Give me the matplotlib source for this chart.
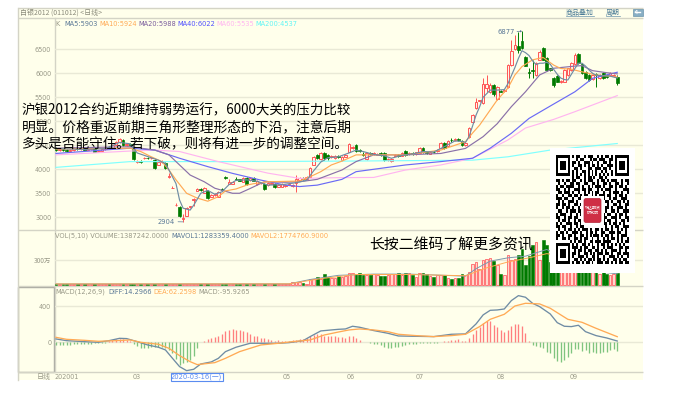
import matplotlib
matplotlib.use("Agg")
import matplotlib.pyplot as plt
from matplotlib.patches import Rectangle, FancyBboxPatch
import numpy as np

CJK = ['Noto Sans CJK SC', 'DejaVu Sans']
plt.rcParams['font.family'] = ['DejaVu Sans', 'Noto Sans CJK SC']

opens = [4440,4400,4430,4410,4380,4400,4440,4420,4430,4410,
 4425,4435,4370,4385,4420,4470,4450,4510,4560,4620,
 4510,4530,4420,4150,4165,4230,4240,4225,4195,4090,
 4150,4140,3830,3610,3250,3220,2960,3035,3210,3370,
 3550,3590,3510,3555,3430,3465,3430,3585,3830,3700,
 3700,3800,3790,3735,3825,3770,3810,3690,3705,3690,
 3670,3700,3700,3640,3640,3650,3680,3660,3720,3770,
 3810,3800,3840,4090,4300,4210,4340,4290,4250,4240,
 4270,4190,4260,4370,4440,4505,4400,4320,4215,4330,
 4310,4300,4330,4340,4190,4175,4280,4300,4280,4390,
 4310,4340,4310,4345,4450,4350,4320,4360,4380,4450,
 4550,4490,4620,4610,4630,4590,4500,4680,4990,5280,
 5415,5375,5700,5615,5755,5465,5640,5630,5720,6170,
 6500,6560,6670,6345,6030,6060,5965,6280,6535,6310,
 6100,5895,5945,5820,5825,5965,6070,6190,6395,6190,
 6030,5970,5880,5985,5905,6010,5970,5960,5950,5930]
closes = [4400,4430,4410,4380,4400,4440,4420,4430,4410,4425,
 4435,4370,4385,4420,4470,4450,4510,4560,4630,4510,
 4530,4500,4215,4170,4150,4240,4225,4240,4035,4150,
 4170,4030,3860,3620,3260,3030,2990,3200,3225,3380,
 3580,3560,3610,3410,3470,3480,3530,3560,3810,3730,
 3725,3780,3765,3825,3695,3825,3765,3760,3725,3590,
 3720,3715,3640,3670,3690,3670,3700,3680,3790,3810,
 3790,3830,4020,4250,4240,4340,4230,4230,4280,4270,
 4250,4260,4300,4530,4460,4380,4390,4300,4340,4310,
 4330,4320,4300,4190,4210,4220,4300,4280,4340,4300,
 4340,4310,4350,4450,4350,4340,4360,4350,4410,4550,
 4445,4590,4600,4640,4600,4500,4540,4860,5130,5410,
 5435,5770,5770,5755,5560,5720,5620,5650,6170,6465,
 6590,6480,6520,6160,6000,6040,6210,6450,6280,6070,
 6070,5755,5825,5830,6070,6100,6210,6380,6210,6000,
 5910,5850,5960,5960,5970,5900,5930,6000,5960,5790]
highs = [4470,4450,4450,4430,4420,4460,4460,4450,4445,4440,
 4450,4440,4400,4430,4490,4490,4530,4580,4660,4640,
 4550,4550,4430,4195,4185,4260,4255,4260,4215,4170,
 4190,4160,3920,3660,3290,3240,3060,3220,3240,3400,
 3620,3600,3625,3570,3490,3500,3545,3610,3860,3790,
 3760,3830,3800,3840,3835,3840,3830,3780,3745,3720,
 3735,3740,3720,3690,3710,3690,3720,3700,3880,3830,
 3830,3850,4040,4270,4320,4355,4350,4320,4300,4290,
 4290,4280,4320,4550,4480,4530,4420,4350,4360,4350,
 4350,4340,4350,4360,4230,4240,4320,4320,4360,4400,
 4360,4350,4370,4470,4470,4370,4380,4380,4430,4570,
 4560,4620,4660,4660,4650,4610,4560,4880,5160,5480,
 5450,5900,5965,5790,5780,5740,5660,5680,6190,6700,
 6800,6850,6877,6360,6110,6280,6240,6480,6550,6330,
 6120,5915,5965,5850,6090,6120,6230,6430,6420,6210,
 6040,5990,5980,6010,5990,6030,5990,6020,5990,5960]
lows = [4380,4380,4390,4350,4360,4390,4400,4400,4395,4400,
 4410,4350,4360,4375,4410,4440,4440,4500,4550,4495,
 4490,4480,4200,4140,4130,4220,4210,4215,4010,4080,
 4140,4000,3820,3600,3240,3000,2904,3020,3190,3240,
 3540,3540,3500,3390,3420,3450,3420,3540,3790,3690,
 3690,3770,3750,3725,3680,3760,3750,3680,3695,3570,
 3660,3685,3620,3630,3625,3630,3670,3640,3525,3760,
 3770,3790,3830,4080,4220,4200,4200,4200,4230,4220,
 4230,4180,4250,4360,4430,4360,4370,4280,4200,4290,
 4290,4290,4280,4170,4170,4160,4270,4260,4270,4280,
 4300,4290,4300,4335,4330,4320,4310,4330,4370,4440,
 4430,4480,4570,4590,4580,4480,4490,4660,4960,5260,
 5400,5360,5600,5580,5520,5450,5600,5610,5700,6160,
 6490,6420,6500,6150,5900,5900,5950,6270,6270,6050,
 6050,5720,5810,5800,5810,5950,6050,6170,6190,5980,
 5890,5830,5870,5720,5890,5880,5910,5950,5930,5750]

# volume, in units of 10 000 (万)
volumes = [6,7,6,5,7,6,8,6,5,7,6,8,7,6,5,7,6,8,9,8,
 7,6,9,6,5,6,7,8,8,6,7,8,7,8,9,9,8,9,7,6,
 7,6,7,8,6,5,6,7,6,6,5,7,6,7,8,6,6,7,5,7,
 6,5,6,7,5,6,8,28,30,28,14,12,64,66,96,72,132,96,80,76,
 100,90,100,144,138,132,144,120,110,110,
 130,120,100,105,120,130,130,140,120,135,
 135,110,85,135,140,130,100,95,120,120,
 120,80,72,75,75,130,110,150,250,270,
 190,290,310,320,280,230,130,110,350,300,
 310,350,430,230,340,480,515,300,530,480,
 276,280,250,270,300,260,240,230,250,200,
 170,180,150,170,130,150,130,110,130,138.7]
macd_hist = [-30,-30,-30,-26,-26,-22,-22,-22,-18,-18,-15,-11,-11,-7,-4,
 15,30,37,37,33,30,18,
 -15,-37,-59,-63,-63,-55,-52,-48,-52,-67,-81,-118,-185,-252,-229,-215,-196,-148,-63,
 4,18,33,44,55,74,96,122,141,144,141,137,130,111,93,74,67,48,44,41,30,18,22,15,15,18,26,30,33,37,52,74,81,93,93,74,74,67,67,55,
 55,48,67,67,48,22,4,0,-7,-15,-22,-33,-52,-59,-63,-55,-52,-37,-30,-22,-22,-18,-11,-7,-4,-7,-7,-4,
 7,11,18,26,30,33,18,18,44,93,141,167,215,233,241,192,167,141,111,133,178,207,207,178,104,18,
 -30,-41,-52,-67,-104,-118,-178,-204,-215,-192,-163,-118,-74,-74,-96,-89,-118,-111,-118,-118,-104,-104,-89,-74,-96]

ma5_i = [0,8,14,18,21,23,25,27,29,31,32,34,35,36,38,39,41,43,45,47,49,51,54,57,60,64,68,71,73,75,77,80,83,85,87,90,93,95,98,101,104,107,110,113,115,116,117,118,119,120,121,123,125,127,128,129,130,131,132,133,134,135,136,137,138,139,140,141,142,143,144,145,146,147,148,149,150,151,152,153,155,157,159]
ma5_v = [4430,4415,4430,4560,4530,4340,4290,4240,4190,4120,3985,3700,3360,3190,3150,3250,3500,3560,3480,3530,3680,3770,3780,3750,3670,3680,3720,3770,3970,4150,4240,4260,4340,4400,4370,4310,4280,4230,4290,4320,4370,4360,4470,4590,4580,4560,4680,4900,5130,5300,5500,5650,5650,5660,5780,5950,6120,6310,6470,6430,6370,6260,6180,6210,6210,6230,6190,6080,5980,5900,5870,5860,5980,6100,6210,6210,6150,6070,6000,5960,5950,5940,5903]
ma10_i = [0,21,24,27,30,32,34,37,40,43,46,48,51,54,56,60,69,72,75,78,81,85,90,99,109,116,118,120,122,125,128,130,132,135,138,141,143,146,149,153,159]
ma10_v = [4420,4440,4370,4260,4160,3985,3780,3500,3400,3335,3430,3550,3590,3670,3700,3740,3755,3845,3950,4090,4170,4300,4300,4300,4400,4575,4755,4920,5130,5445,5690,5965,6140,6280,6330,6170,6100,6085,6030,5965,5924]
ma20_i = [0,21,28,32,35,38,42,45,50,52,55,59,65,69,74,81,85,90,99,109,116,121,125,126,129,133,137,141,147,149,152,156,159]
ma20_v = [4440,4470,4400,4300,4090,3880,3740,3605,3500,3500,3600,3740,3730,3740,3790,3985,4160,4300,4300,4330,4435,4680,4950,5040,5305,5615,5965,6105,6150,6160,6055,6012,5988]
ma40_i = [0,21,28,35,43,50,58,65,69,74,81,85,99,109,118,123,129,134,141,147,152,159]
ma40_v = [4330,4440,4400,4230,4055,3915,3775,3670,3640,3670,3790,3950,4090,4160,4230,4440,4750,5060,5360,5615,5895,6022]
ma60_i = [0,21,28,35,46,60,69,80,90,99,109,118,128,133,141,147,159]
ma60_v = [4300,4380,4400,4370,4160,3920,3810,3825,3830,3985,4090,4230,4610,4860,5040,5200,5535]
ma200_i = [0,21,50,81,118,128,140,159]
ma200_v = [4040,4160,4160,4170,4190,4260,4400,4537]

mavol1_i = [0,66,72,80,90,100,110,116,119,123,128,133,136,139,145,152,159]
mavol1_v = [7,8,60,110,125,125,110,100,190,280,320,340,380,420,300,160,128]
mavol2_i = [0,66,75,85,100,116,122,128,134,139,145,152,159]
mavol2_v = [7,8,70,120,120,105,200,270,320,370,340,230,177]

diff_i = [0,3,8,12,15,18,20,23,26,29,31,33,35,37,39,41,44,46,48,51,55,59,63,66,70,72,75,78,80,82,84,86,90,94,97,101,107,112,116,119,121,123,125,127,129,131,133,135,137,140,142,144,146,148,150,153,156,159]
diff_v = [37,18,7,0,18,44,41,7,-30,-55,-85,-178,-270,-315,-300,-241,-218,-178,-104,-55,-11,-11,-11,-4,18,63,126,137,144,148,178,167,130,100,70,67,63,89,93,204,304,355,359,370,463,518,500,433,396,315,218,178,174,189,118,74,48,14]
dea_i = [0,3,8,12,17,21,24,29,32,35,38,40,45,48,52,58,63,67,72,76,80,83,86,90,94,97,102,107,112,116,120,123,127,130,133,137,140,145,149,153,159]
dea_v = [55,33,22,11,18,26,0,-22,-67,-148,-215,-248,-226,-178,-104,-30,-11,7,26,81,114,137,148,137,118,89,74,63,74,89,174,255,311,403,433,426,378,255,222,155,62]

price_ticks = [3000,3500,4000,4500,5000,5500,6000,6500]
month_ticks = [-0.3,21.7,64.3,82.2,102,124.9,145.6]
month_labels = ['202001','03','05','06','07','08','09']

GRAY='#999988'; BLUEG='#5A7896'; ORG='#FFAA55'; PUR='#8A70A8'; BLU='#6A6AF5'; PNK='#FFB5F0'; CYN='#80FFFF'
RED='#FF5555'; GRN='#007A00'; CREAM='#FFFFEB'; GRID='#E9E9D6'; FRAME='#D4D4C6'

W,H = 676,396
fig = plt.figure(figsize=(W/100,H/100),dpi=100,facecolor='white')
def axpx(l,t,r,b,z=1):
    return fig.add_axes([l/W,1-b/H,(r-l)/W,(b-t)/H],zorder=z)

bg = axpx(0,0,W,H,0); bg.set_xlim(0,W); bg.set_ylim(H,0); bg.axis('off')
bg.add_patch(Rectangle((18,8),625,371.5,fc=CREAM,ec='none'))
for y in (8,18,230,286,372):
    bg.plot([18,643],[y,y],color=FRAME,lw=1,solid_capstyle='butt')
for x,(a,b) in ((18,(8,380)),(54.5,(18,372))):
    bg.plot([x,x],[a,b],color=FRAME,lw=1)
bg.add_patch(Rectangle((18,287),36,85,fc='none',ec='#A8A8A0',lw=1))

x0 = -1.5/3.53; x1 = 587/3.53
idx = np.arange(len(closes))
up = np.array(closes)>=np.array(opens)

def style(ax):
    ax.set_facecolor('none')
    for s in ax.spines.values(): s.set_visible(False)
    ax.set_xlim(x0,x1)
    ax.grid(axis='y',color=GRID,lw=1,zorder=0)
    ax.set_axisbelow(True)
    ax.tick_params(length=0,labelsize=4.7,labelcolor=GRAY,pad=2.4)

# K panel
k = axpx(54.5,18,643,230,1); style(k)
k.set_ylim(2735,7152)
k.set_xticks([])
k.set_yticks(price_ticks)
o,c,h_,l_ = map(np.array,(opens,closes,highs,lows))
k.vlines(idx[up],l_[up],h_[up],color=RED,lw=.7,zorder=2)
k.vlines(idx[~up],l_[~up],h_[~up],color=GRN,lw=.7,zorder=2)
k.bar(idx[up],(c-o)[up],bottom=o[up],width=.72,fc='#FFF4E8',ec=RED,lw=.7,zorder=2.2)
k.bar(idx[~up],(c-o)[~up],bottom=o[~up],width=.78,fc=GRN,ec=GRN,lw=.5,zorder=2.2)
for xs,ys,col in ((ma200_i,ma200_v,CYN),(ma60_i,ma60_v,PNK),(ma40_i,ma40_v,BLU),(ma20_i,ma20_v,PUR),(ma10_i,ma10_v,ORG),(ma5_i,ma5_v,'#6F8CA4')):
    k.plot(xs,ys,color=col,lw=.85,zorder=3)
k.annotate('6877',xy=(np.argmax(highs),max(highs)),xytext=(497,32),textcoords=bg.transData,
           fontsize=4.9,color=BLUEG,va='center',ha='left',
           arrowprops=dict(arrowstyle='-|>,head_width=.1,head_length=.15',color=BLUEG,lw=.5,shrinkA=0,shrinkB=0))
k.annotate('2904',xy=(np.argmin(lows),min(lows)),xytext=(158,221.5),textcoords=bg.transData,
           fontsize=4.9,color=BLUEG,va='center',ha='left',
           arrowprops=dict(arrowstyle='-',color=BLUEG,lw=.5,shrinkA=0,shrinkB=0))

# Volume panel
v = axpx(54.5,230,643,286,1); style(v)
v.set_ylim(-18,654)
v.set_xticks([])
v.set_yticks([300]); v.set_yticklabels(['300万'],fontfamily=CJK)
vol = np.array(volumes)
v.bar(idx[up],vol[up],width=.72,fc='#FFD8CC',ec='#FF7777',lw=.7,zorder=2)
v.bar(idx[~up],vol[~up],width=.78,fc=GRN,ec=GRN,lw=.4,zorder=2)
v.plot(mavol1_i,mavol1_v,color='#7F99AE',lw=.7,zorder=3)
v.plot(mavol2_i,mavol2_v,color=ORG,lw=.7,zorder=3)

# MACD panel
m = axpx(54.5,286,643,372,1); style(m)
m.set_ylim(-330,625)
m.set_yticks([0,400])
hist = np.array(macd_hist)
m.vlines(idx[hist>=0],0,hist[hist>=0],color='#FF7F7F',lw=.95,zorder=2)
m.vlines(idx[hist<0],0,hist[hist<0],color='#7FC47F',lw=.95,zorder=2)
m.plot(diff_i,diff_v,color='#6F8CA4',lw=.95,zorder=3)
m.plot(dea_i,dea_v,color=ORG,lw=.95,zorder=3)
m.set_xticks(month_ticks); m.set_xticklabels(month_labels,ha='left')
m.tick_params(axis='x',pad=1.6)

# Overlay: headers, QR, notes
top = axpx(0,0,W,H,5); top.set_xlim(0,W); top.set_ylim(H,0); top.axis('off'); top.patch.set_alpha(0)
def T(x,y,s,col=GRAY,fs=4.75,**kw):
    kw.setdefault('va','center'); kw.setdefault('ha','left')
    top.text(x,y,s,color=col,fontsize=fs,**kw)
T(20,12.7,'白银2012 (011012) <日线>',col='#8A8A7A',fs=5,family=CJK)
T(566,12.7,'商品叠加',col='#4A7A96',fs=5,family=CJK)
T(606,12.7,'周期',col='#4A7A96',fs=5,family=CJK)
top.plot([566,594],[16,16],color='#6A94AC',lw=.5); top.plot([606,620],[16,16],color='#6A94AC',lw=.5)
top.add_patch(Rectangle((632.5,8.5),10,7,fc='#88AEC4',ec='#6C94AC',lw=.5))
top.plot([635,640],[12,12],color='white',lw=1); top.plot([635,637,637],[12,10.2,13.8],color='white',lw=.5)
for x,s,col in ((55,'K',GRAY),(64.5,'MA5:5903',BLUEG),(99,'MA10:5924',ORG),(138.5,'MA20:5988','#7A5C9C'),
                (177.5,'MA40:6022','#5050FF'),(216.5,'MA60:5535',PNK),(255.5,'MA200:4537','#60F5F5')):
    T(x,24,s,col=col)
for x,s,col in ((55,'VOL(5,10) VOLUME:1387242.0000',GRAY),(171,'MAVOL1:1283359.4000',BLUEG),(250.5,'MAVOL2:1774760.9000',ORG)):
    T(x,235.7,s,col=col)
for x,s,col in ((55,'MACD(12,26,9)',GRAY),(108,'DIFF:14.2966',BLUEG),(153,'DEA:62.2598',ORG),(198,'MACD:-95.9265',GRAY)):
    T(x,292,s,col=col)
T(37,376.5,'日线',fs=5,family=CJK)
top.add_patch(Rectangle((170.5,372.5),52,8,fc='white',ec='#5A8CF0',lw=.8))
T(196.5,376.8,'2020-03-16(一)',col='#5A8CF0',fs=4.9,ha='center',family=['DejaVu Sans','Noto Sans CJK SC'])

for y,s,fs in ((110,'沪银2012合约近期维持弱势运行，6000大关的压力比较',9.7),
            (127,'明显。价格重返前期三角形整理形态的下沿，注意后期',9.95),
            (144,'多头是否能守住。若下破，则将有进一步的调整空间。',9.85)):
    T(22,y,s,col='black',fs=fs,family=CJK)
T(369,245,'长按二维码了解更多资讯',col='black',fs=10.7,family=CJK)

qr_rows = [
"#######.#.##..#.###..#.#.##.#.#######",
"#.....#...#.##...#.##.###..##.#.....#",
"#.###.#.##.#..###.#..#..##.#..#.###.#",
"#.###.#.#..##.#.#.##.#.#..###.#.###.#",
"#.###.#..##.#...##..###.##.#..#.###.#",
"#.....#.#.#..##.#.#.#..#.#..#.#.....#",
"#######.#.#.#.#.#.#.#.#.#.#.#.#######",
"........#.##..#.##.#..##.#............",
"##.#.##.##..#.#.###..#.##.#.###..#.##",
".#..#..##.##..##..##.#..##.#..##.#..#",
"#.##.####..#.#..#.#.###.#..##.#.##.#.",
"##..#.#..###.##.##...#.#.###..#...###",
".##.###.#..#..#.#.#.##..#..#.###.#..#",
"#..#..##.##.#.##..#.#.###.##..#.##.#.",
"###.##..#..###.#.##...#.#..#.##..###.",
".#.#..###.#..#...........##.#..##.#.#",
"##.##.#..##.##............#..##.#..##",
"#..#.##.#..#.#...........##.#..###.#.",
".##..#.###.##............#..##.#..###",
"#.###..#..#.#...........#.##..#.##.#.",
"##..#.##.##.............##..###.#..##",
".#.##.#..#.##...........#.##..#..##.#",
"#.#..###.##.#...........##.#.##.#.#..",
"##.##..#..#.##...........#..#.##..###",
".#..#.##.#.#.###.#..##.#.##.#..#.#.#.",
"#.##.#..###.#..#.##.#..##..###.##..#.",
"##.#..##.#..##.#.#.###.#.##.#..#.###.",
"#..##.#..##.#.##..#..#..#.#.##.#.#..#",
".......#.#.##.#..##.###.####...#.#.##",
"#######.#.#..##.#.#..#.##.#.#.#.#.#..",
"#.....#.###.#.##..##.#..#.###...##.##",
"#.###.#..#.##.#.##..##.#.#..###.#..#.",
"#.###.#.##.#..##.#.#.###.##.#..##.###",
"#.###.#.#..###.#..##.#..#..###.#.#..#",
"#.....#..##.#.#.##.#.##.#.#..##.#.##.",
"#######.#.##.#.##.#..###.##.#.#.##.##",
]
qr = np.array([[0 if ch=='#' else 1 for ch in (r+'.'*37)[:37]] for r in qr_rows])
top.add_patch(Rectangle((550,148),85,124.7,fc='white',ec='none',zorder=4))
top.imshow(qr,cmap='gray',vmin=0,vmax=1,extent=(556,629,264,155),aspect='auto',interpolation='nearest',zorder=5)
top.set_xlim(0,W); top.set_ylim(H,0)
top.add_patch(Rectangle((581,195.5),23,29,fc='white',ec='none',zorder=6))
top.add_patch(FancyBboxPatch((584,198.5),17,24,boxstyle='round,pad=0,rounding_size=2',fc='#CF2F45',ec='#B52438',lw=.5,zorder=7))
T(592.5,207.5,'瑞达期货',col='white',fs=2.9,ha='center',family=CJK,zorder=8)
T(592.5,213,'研究院',col='white',fs=2.9,ha='center',family=CJK,zorder=8)

fig.savefig('out.png',dpi=100,facecolor='white')
